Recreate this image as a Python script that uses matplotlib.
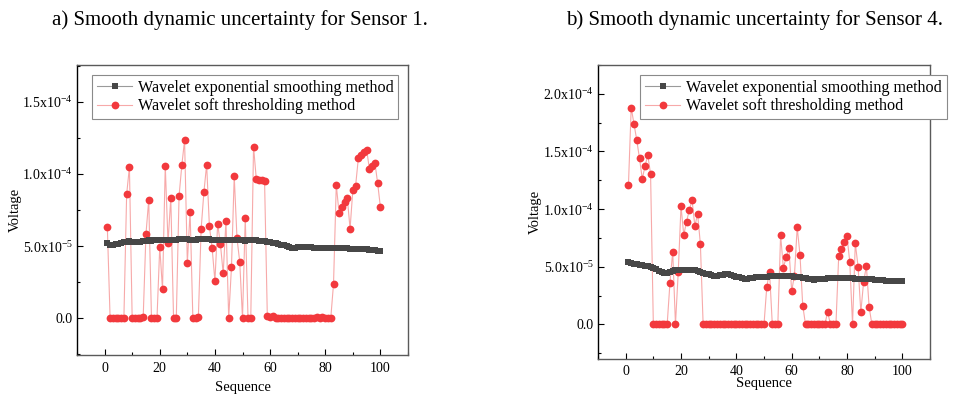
import matplotlib
matplotlib.use("Agg")
import matplotlib.pyplot as plt
from matplotlib.ticker import FixedLocator, MultipleLocator
import numpy as np

plt.rcParams['font.family'] = ['Liberation Serif', 'DejaVu Serif']
plt.rcParams['mathtext.fontset'] = 'custom'
plt.rcParams['mathtext.rm'] = 'Liberation Serif'
plt.rcParams['mathtext.it'] = 'Liberation Serif:italic'
plt.rcParams['axes.unicode_minus'] = False

seq = list(range(1, 101))

# Sensor 1 (units of 1e-5)
s1_smooth = [5.19, 5.10, 5.08, 5.12, 5.15, 5.20, 5.27, 5.31, 5.33, 5.30,
             5.28, 5.29, 5.30, 5.33, 5.38, 5.40, 5.37, 5.39, 5.41, 5.40,
             5.42, 5.43, 5.41, 5.43, 5.44, 5.42, 5.46, 5.49, 5.51, 5.48,
             5.45, 5.42, 5.44, 5.46, 5.47, 5.49, 5.48, 5.46, 5.45, 5.44,
             5.43, 5.44, 5.45, 5.44, 5.43, 5.42, 5.44, 5.45, 5.43, 5.40,
             5.38, 5.40, 5.42, 5.41, 5.39, 5.37, 5.35, 5.32, 5.28, 5.25,
             5.22, 5.19, 5.15, 5.10, 5.06, 5.02, 4.96, 4.90, 4.85, 4.93,
             4.96, 4.95, 4.93, 4.92, 4.91, 4.90, 4.89, 4.89, 4.88, 4.87,
             4.86, 4.86, 4.85, 4.85, 4.84, 4.84, 4.84, 4.84, 4.83, 4.82,
             4.82, 4.81, 4.80, 4.79, 4.77, 4.75, 4.73, 4.71, 4.68, 4.65]
s1_soft = [6.30, 0.0, 0.0, 0.0, 0.0, 0.0, 0.0, 8.59, 10.47, 0.0,
           0.0, 0.0, 0.0, 0.08, 5.83, 8.20, 0.0, 0.0, 0.0, 4.93,
           2.00, 10.56, 5.23, 8.35, 0.0, 0.0, 8.47, 10.60, 12.34, 3.82,
           7.38, 0.0, 0.0, 0.08, 6.18, 8.73, 10.65, 6.37, 4.84, 2.57,
           6.55, 5.12, 3.10, 6.74, 0.0, 3.54, 9.84, 5.56, 3.89, 0.0,
           6.94, 0.0, 0.0, 11.90, 9.65, 9.58, 9.56, 9.51, 0.12, 0.10,
           0.12, 0.0, 0.0, 0.0, 0.0, 0.0, 0.0, 0.0, 0.0, 0.0,
           0.0, 0.0, 0.0, 0.0, 0.0, 0.0, 0.08, 0.0, 0.08, 0.0,
           0.0, 0.0, 2.38, 9.24, 7.31, 7.71, 8.03, 8.31, 6.20, 8.89,
           9.17, 11.09, 11.30, 11.50, 11.69, 10.35, 10.55, 10.78, 9.35, 7.69]

# Sensor 4 (units of 1e-5)
s4_smooth = [5.38, 5.33, 5.28, 5.22, 5.17, 5.12, 5.08, 5.04, 5.00, 4.90,
             4.78, 4.65, 4.52, 4.45, 4.50, 4.58, 4.66, 4.72, 4.74, 4.76,
             4.76, 4.75, 4.75, 4.74, 4.72, 4.66, 4.58, 4.48, 4.40, 4.33,
             4.27, 4.22, 4.20, 4.25, 4.30, 4.34, 4.33, 4.28, 4.22, 4.15,
             4.08, 4.02, 3.97, 3.95, 4.00, 4.06, 4.10, 4.12, 4.12, 4.13,
             4.15, 4.17, 4.18, 4.19, 4.20, 4.20, 4.19, 4.18, 4.17, 4.16,
             4.15, 4.14, 4.12, 4.06, 4.00, 3.94, 3.90, 3.88, 3.92, 3.96,
             3.98, 3.98, 3.99, 4.00, 4.00, 4.01, 4.01, 4.02, 4.02, 4.01,
             4.00, 3.99, 3.97, 3.95, 3.94, 3.93, 3.92, 3.91, 3.90, 3.88,
             3.86, 3.84, 3.82, 3.80, 3.79, 3.78, 3.77, 3.76, 3.75, 3.74]
s4_soft = [12.06, 18.80, 17.40, 16.00, 14.40, 12.63, 13.73, 14.68, 13.06, 0.0,
           0.0, 0.0, 0.0, 0.0, 0.0, 3.58, 6.31, 0.0, 4.53, 10.24,
           7.76, 8.91, 9.92, 10.79, 8.54, 9.58, 7.00, 0.0, 0.0, 0.0,
           0.0, 0.0, 0.0, 0.0, 0.0, 0.0, 0.0, 0.0, 0.0, 0.0,
           0.0, 0.0, 0.0, 0.0, 0.0, 0.0, 0.0, 0.0, 0.0, 0.0,
           3.25, 4.58, 0.0, 0.0, 0.0, 7.76, 4.90, 5.83, 6.61, 2.89,
           4.24, 8.42, 6.06, 1.64, 0.0, 0.0, 0.0, 0.0, 0.0, 0.0,
           0.0, 0.0, 1.10, 0.0, 0.0, 0.0, 5.92, 6.57, 7.15, 7.67,
           5.42, 0.0, 7.04, 5.02, 1.07, 3.67, 5.08, 1.50, 0.0, 0.0,
           0.0, 0.0, 0.0, 0.0, 0.0, 0.0, 0.0, 0.0, 0.0, 0.0]

titles = ["a) Smooth dynamic uncertainty for Sensor 1.",
          "b) Smooth dynamic uncertainty for Sensor 4."]
legend_labels = ["Wavelet exponential smoothing method",
                 "Wavelet soft thresholding method"]
xticks = [0, 20, 40, 60, 80, 100]
a_yticks = [0.0, 5e-5, 1e-4, 1.5e-4]
a_ylabels = ["0.0", r"5.0x10$^{\mathregular{-5}}$", r"1.0x10$^{\mathregular{-4}}$",
             r"1.5x10$^{\mathregular{-4}}$"]
b_yticks = [0.0, 5e-5, 1e-4, 1.5e-4, 2e-4]
b_ylabels = ["0.0", r"5.0x10$^{\mathregular{-5}}$", r"1.0x10$^{\mathregular{-4}}$",
             r"1.5x10$^{\mathregular{-4}}$", r"2.0x10$^{\mathregular{-4}}$"]

W, H = 956, 398
fig = plt.figure(figsize=(W / 100, H / 100), dpi=100)

def box(l, t, r, b):
    return [l / W, 1 - b / H, (r - l) / W, (b - t) / H]

ax1 = fig.add_axes(box(77, 65, 408, 355))
ax2 = fig.add_axes(box(598, 65, 930, 359))

SMOOTH_C = '#474747'
SOFT_C = '#f2393d'
LINE_C = '#f7a9a9'

def draw(ax, smooth, soft, yticks, ylabels, ylim, title, title_x, leg_anchor,
         ylabel_x, xlabel_y, xpad):
    sm = np.array(smooth) * 1e-5
    so = np.array(soft) * 1e-5
    ax.plot(seq, sm, color='#9a9a9a', lw=0.8, marker='s', ms=4.6,
            mfc=SMOOTH_C, mec=SMOOTH_C, mew=0, zorder=3,
            label=legend_labels[0])
    ax.plot(seq, so, color=LINE_C, lw=0.8, marker='o', ms=5.6,
            mfc=SOFT_C, mec=SOFT_C, mew=0, zorder=2,
            label=legend_labels[1])
    ax.set_xlim(-10, 110)
    ax.set_ylim(*ylim)
    ax.xaxis.set_major_locator(FixedLocator(xticks))
    ax.xaxis.set_minor_locator(MultipleLocator(10))
    ax.yaxis.set_major_locator(FixedLocator(yticks))
    ax.yaxis.set_minor_locator(MultipleLocator(2.5e-5))
    ax.set_yticklabels(ylabels)
    ax.tick_params(axis='both', which='major', direction='in', length=4,
                   width=0.8, labelsize=10, colors='black')
    ax.tick_params(axis='both', which='minor', direction='in', length=2.5,
                   width=0.8)
    ax.tick_params(axis='y', pad=3)
    ax.tick_params(axis='x', pad=xpad)
    ax.spines['left'].set_color('black')
    ax.spines['left'].set_linewidth(1.0)
    for s in ['top', 'right', 'bottom']:
        ax.spines[s].set_color('#5a5a5a')
        ax.spines[s].set_linewidth(1.0)
    ax.set_xlabel("Sequence", fontsize=10.5)
    ax.set_ylabel("Voltage", fontsize=10.5)
    pos = ax.get_position()
    ax.yaxis.set_label_coords((ylabel_x / W - pos.x0) / pos.width, 0.5)
    ax.xaxis.set_label_coords(0.5, ((1 - xlabel_y / H) - pos.y0) / pos.height)
    ax.xaxis.label.set_va('center')
    ax.yaxis.label.set_va('center')
    fig.text(title_x / W, 1 - 20 / H, title, ha='center', va='center',
             fontsize=15)
    leg = ax.legend(loc='upper left', bbox_to_anchor=leg_anchor,
                    bbox_transform=fig.transFigure, fontsize=11.6,
                    frameon=True, fancybox=False, framealpha=1,
                    edgecolor='#8a8a8a', handlelength=2.2, handletextpad=0.35,
                    borderpad=0.3, labelspacing=0.15, borderaxespad=0)
    leg.get_frame().set_linewidth(0.8)

draw(ax1, s1_smooth, s1_soft, a_yticks, a_ylabels, (-2.55e-5, 1.755e-4),
     titles[0], 240, (92 / W, 1 - 75 / H), 15, 388, 5)
draw(ax2, s4_smooth, s4_soft, b_yticks, b_ylabels, (-3.0e-5, 2.25e-4),
     titles[1], 755, (640 / W, 1 - 75 / H), 535, 383, 4)

fig.savefig("out.png", dpi=100)
